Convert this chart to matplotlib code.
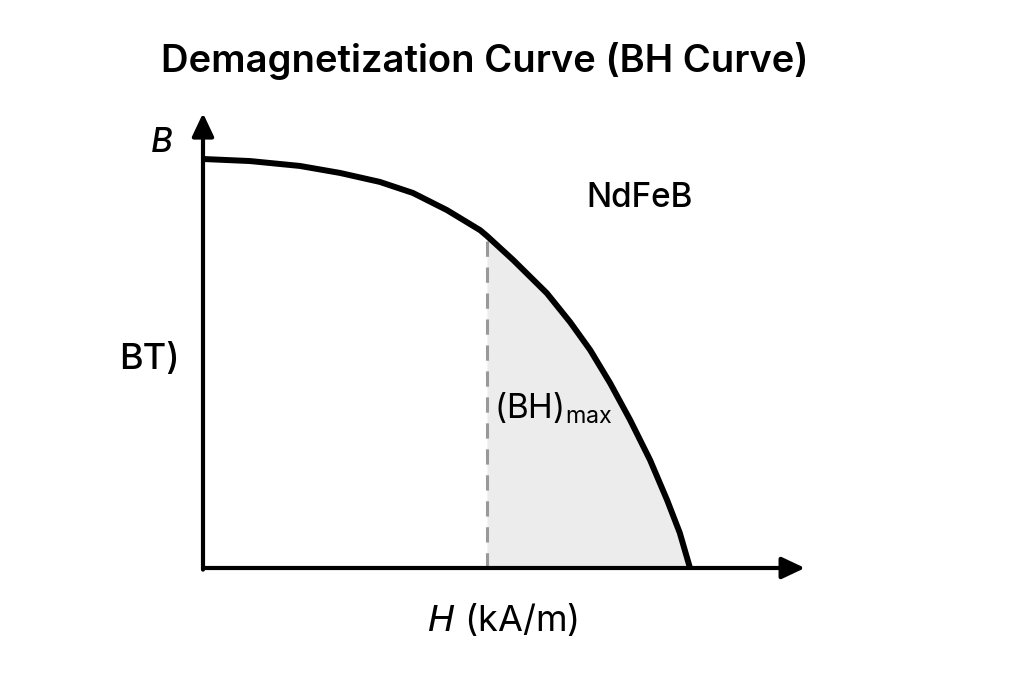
import numpy as np
import matplotlib.pyplot as plt

plt.rcParams['font.family'] = ['Inter', 'DejaVu Sans']
plt.rcParams['mathtext.default'] = 'regular'

# demagnetization curve (H in % of coercivity, B relative to Br)
H = [0, 9.65, 19.9, 28.1, 36.3, 43.1, 50.1, 56.9, 58.3, 63.7, 70.6, 75.4,
     79.5, 83.6, 87.7, 91.8, 95.3, 97.9, 100]
B = [1.0, 0.995, 0.983, 0.966, 0.944, 0.917, 0.875, 0.826, 0.812, 0.753, 0.672, 0.601,
     0.533, 0.452, 0.362, 0.264, 0.166, 0.086, 0.0]
H_bhmax = 58.3

H = np.array(H)
B = np.array(B)

fig = plt.figure(figsize=(10.24, 6.83), dpi=100)
ax = fig.add_axes([203/1024, (683-568)/683, 612/1024, 463/683])
ax.set_xlim(0, 612/4.87)
ax.set_ylim(0, 463/409)
ax.axis('off')

# shaded area right of the (BH)max point
mask = H >= H_bhmax
ax.fill_between(H[mask], 0, B[mask], color='#ececec', lw=0, zorder=1)
ax.plot([H_bhmax, H_bhmax], [0, B[H == H_bhmax][0]], color='#999999', lw=2.2,
        dashes=(5, 3.5), zorder=2)

ax.plot(H, B, color='black', lw=4.3, solid_capstyle='butt', solid_joinstyle='round',
        zorder=3, clip_on=False)

# axes with arrows
arrow = dict(arrowstyle='-|>,head_length=0.7,head_width=0.33', color='black', lw=3,
             shrinkA=0, shrinkB=0, mutation_scale=20)
ax.annotate('', xy=(123.6, 0), xytext=(0, 0), arrowprops=arrow, annotation_clip=False)
ax.annotate('', xy=(0, 1.112), xytext=(0, -0.004), arrowprops=arrow, annotation_clip=False)

ax.text(-8.4, 1.039, 'B', fontsize=24, style='italic', fontweight='medium',
        ha='center', va='center')
ax.text(-10.9, 0.509, 'BT)', fontsize=26, fontweight='medium', ha='center', va='center')
ax.text(89.7, 0.905, 'NdFeB', fontsize=24, fontweight='medium', ha='center', va='center')
ax.text(72.0, 0.391, '(BH)$_{max}$', fontsize=24, ha='center', va='center')
ax.text(61.6, -0.127, '$\\mathit{H}$ (kA/m)', fontsize=26, ha='center', va='center')

fig.text(485/1024, 1 - 61/683, 'Demagnetization Curve (BH Curve)', fontsize=27.5,
         fontweight='semibold', ha='center', va='center')

fig.savefig('out.png', dpi=100, facecolor='white')
